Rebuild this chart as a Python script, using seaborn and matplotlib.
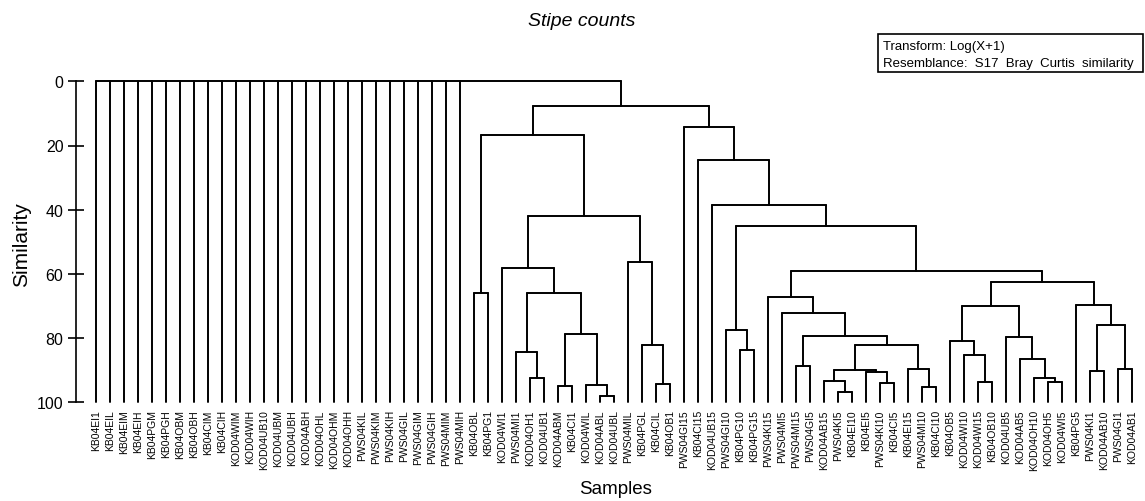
import matplotlib
matplotlib.use("Agg")
import matplotlib.pyplot as plt
import pandas as pd
import seaborn as sns
from matplotlib.patches import Rectangle

# ---------------- data ----------------
samples = [
    "KB04EI1", "KB04EIL", "KB04EIM", "KB04EIH", "KB04PGM", "KB04PGH", "KB04OBM",
    "KB04OBH", "KB04CIM", "KB04CIH", "KOD04WIM", "KOD04WIH", "KOD04UB10", "KOD04UBM",
    "KOD04UBH", "KOD04ABH", "KOD04OHL", "KOD04OHM", "KOD04OHH", "PWS04KIL", "PWS04KIM",
    "PWS04KIH", "PWS04GIL", "PWS04GIM", "PWS04GIH", "PWS04MIM", "PWS04MIH",
    "KB04OBL", "KB04PG1", "KOD04WI1", "PWS04MI1", "KOD04OH1", "KOD04UB1", "KOD04ABM",
    "KB04CI1", "KOD04WIL", "KOD04ABL", "KOD04UBL", "PWS04MIL", "KB04PGL", "KB04CIL",
    "KB04OB1", "PWS04GI15", "KB04CI15", "KOD04UB15", "PWS04GI10", "KB04PG10", "KB04PG15",
    "PWS04KI15", "PWS04MI5", "PWS04MI15", "PWS04GI5", "KOD04AB15", "PWS04KI5", "KB04EI10",
    "KB04EI5", "PWS04KI10", "KB04CI5", "KB04EI15", "PWS04MI10", "KB04CI10", "KB04OB5",
    "KOD04WI10", "KOD04WI15", "KB04OB10", "KOD04UB5", "KOD04AB5", "KOD04OH10", "KOD04OH5",
    "KOD04WI5", "KB04PG5", "PWS04KI1", "KOD04AB10", "PWS04GI1", "KOD04AB1",
]

# samples with zero similarity to everything (joined at the root)
zero_group = samples[:27]
root_similarity = 0.0

# cluster joins: (node, children, similarity %)
left_merges = [
    ("a1", ["KB04OBL", "KB04PG1"], 66.0),
    ("a2", ["KOD04OH1", "KOD04UB1"], 92.4),
    ("a3", ["PWS04MI1", "a2"], 84.2),
    ("a4", ["KOD04ABM", "KB04CI1"], 94.9),
    ("a5", ["KOD04ABL", "KOD04UBL"], 98.0),
    ("a6", ["KOD04WIL", "a5"], 94.6),
    ("a7", ["a4", "a6"], 78.6),
    ("a8", ["a3", "a7"], 65.8),
    ("a9", ["KOD04WI1", "a8"], 58.2),
    ("a10", ["KB04CIL", "KB04OB1"], 94.4),
    ("a11", ["KB04PGL", "a10"], 82.2),
    ("a12", ["PWS04MIL", "a11"], 56.4),
    ("a13", ["a9", "a12"], 42.1),
    ("a14", ["a1", "a13"], 16.6),
]
right_merges = [
    ("b1", ["KB04PG10", "KB04PG15"], 83.6),
    ("b2", ["PWS04GI10", "b1"], 77.4),
    ("b3", ["PWS04MI15", "PWS04GI5"], 88.6),
    ("b4", ["PWS04KI5", "KB04EI10"], 96.7),
    ("b5", ["KOD04AB15", "b4"], 93.4),
    ("b6", ["PWS04KI10", "KB04CI5"], 94.0),
    ("b7", ["KB04EI5", "b6"], 90.5),
    ("b8", ["b5", "b7"], 90.0),
    ("b9", ["PWS04MI10", "KB04CI10"], 95.3),
    ("b10", ["KB04EI15", "b9"], 89.6),
    ("b11", ["b8", "b10"], 82.1),
    ("b12", ["b3", "b11"], 79.2),
    ("b13", ["PWS04MI5", "b12"], 72.2),
    ("b14", ["PWS04KI15", "b13"], 67.3),
    ("c1", ["KOD04WI15", "KB04OB10"], 93.8),
    ("c2", ["KOD04WI10", "c1"], 85.2),
    ("c3", ["KB04OB5", "c2"], 80.8),
    ("c4", ["KOD04OH5", "KOD04WI5"], 93.8),
    ("c5", ["KOD04OH10", "c4"], 92.4),
    ("c6", ["KOD04AB5", "c5"], 86.6),
    ("c7", ["KOD04UB5", "c6"], 79.8),
    ("c8", ["c3", "c7"], 70.1),
    ("c9", ["PWS04KI1", "KOD04AB10"], 90.4),
    ("c10", ["PWS04GI1", "KOD04AB1"], 89.6),
    ("c11", ["c9", "c10"], 76.0),
    ("c12", ["KB04PG5", "c11"], 69.7),
    ("c13", ["c8", "c12"], 62.4),
    ("c14", ["b14", "c13"], 59.1),
    ("c15", ["b2", "c14"], 45.1),
    ("c16", ["KOD04UB15", "c15"], 38.6),
    ("c17", ["KB04CI15", "c16"], 24.4),
    ("c18", ["PWS04GI15", "c17"], 14.2),
]
top_merges = [
    ("d1", ["a14", "c18"], 7.6),
    ("root", zero_group + ["d1"], root_similarity),
]

# ---------------- build the dendrogram segments ----------------
pos = {s: i for i, s in enumerate(samples)}
height = {s: 100.0 for s in samples}
rows = []
seg = 0
for name, children, sim in left_merges + right_merges + top_merges:
    xs = [pos[c] for c in children]
    for c in children:
        if height[c] != sim:
            rows += [(seg, pos[c], height[c]), (seg, pos[c], sim)]
            seg += 1
    rows += [(seg, min(xs), sim), (seg, max(xs), sim)]
    seg += 1
    pos[name] = (xs[0] + xs[-1]) / 2.0
    height[name] = sim
segments = pd.DataFrame(rows, columns=["seg", "x", "y"])

# ---------------- plot ----------------
sns.set_style("white")
plt.rcParams["font.family"] = ["Liberation Sans", "DejaVu Sans"]
plt.rcParams["text.color"] = "black"
plt.rcParams["axes.labelcolor"] = "black"
plt.rcParams["xtick.color"] = "black"
plt.rcParams["ytick.color"] = "black"

W, H = 1145, 502
fig = plt.figure(figsize=(W / 100, H / 100), dpi=100)
ax = fig.add_axes([76 / W, 1 - 403.3 / H, (W - 76) / W, (403.3 - 82.3) / H])

sns.lineplot(data=segments, x="x", y="y", units="seg", estimator=None, sort=False,
             color="black", linewidth=1.4, ax=ax, legend=False)
for ln in ax.lines:
    ln.set_clip_on(False)

ax.set_ylim(100, 0)
ax.set_xlim((76 - 96) / 14.0, (W - 96) / 14.0)
ax.set_yticks([0, 20, 40, 60, 80, 100])
ax.set_xticks(range(len(samples)))
ax.set_xticklabels(samples, rotation=90, fontsize=7.5, color="black")
ax.set_xlabel("")
ax.set_ylabel("")
ax.tick_params(axis="x", length=0, pad=5, colors="black")
ax.tick_params(axis="y", direction="inout", length=12, width=1.2, labelsize=11.5,
               pad=3, colors="black", left=True)
for side in ["top", "right", "bottom"]:
    ax.spines[side].set_visible(False)
ax.spines["left"].set_color("black")
ax.spines["left"].set_linewidth(1.2)

fig.text(582 / W, 1 - 22 / H, "Stipe counts", ha="center", va="center",
         fontsize=14, style="italic", color="black")
fig.text(616 / W, 1 - 490 / H, "Samples", ha="center", va="center", fontsize=13.5,
         color="black")
fig.text(22 / W, 1 - 245 / H, "Similarity", ha="center", va="center",
         rotation=90, fontsize=15, color="black")

fig.patches.append(Rectangle((878 / W, 1 - 73 / H), (1143 - 878) / W, (73 - 35) / H,
                             transform=fig.transFigure, fill=False,
                             edgecolor="black", linewidth=1.2))
fig.text(883 / W, 1 - 47 / H, "Transform: Log(X+1)", ha="left", va="center",
         fontsize=9.5, color="black")
fig.text(883 / W, 1 - 64 / H, "Resemblance:  S17  Bray  Curtis  similarity",
         ha="left", va="center", fontsize=9.5, color="black")

fig.savefig("out.png", dpi=100)
